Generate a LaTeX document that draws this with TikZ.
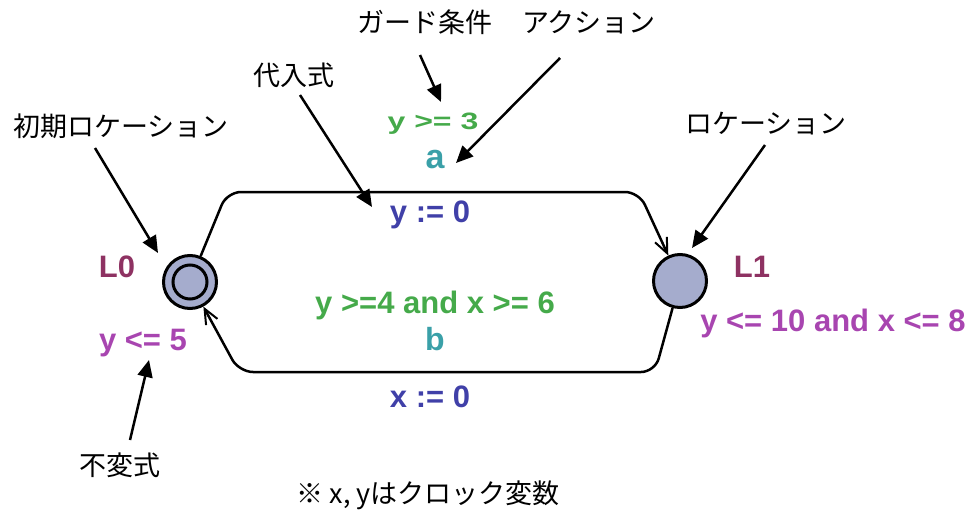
\documentclass[tikz,border=0pt]{standalone}
\usepackage{fontspec}
\usepackage{graphicx}
\setmainfont{Liberation Sans}
\newfontfamily\jp{Noto Sans CJK JP}
\usetikzlibrary{arrows.meta}
\definecolor{locfill}{RGB}{165,172,205}
\definecolor{lname}{RGB}{142,50,98}
\definecolor{inv}{RGB}{168,69,176}
\definecolor{guard}{RGB}{69,170,74}
\definecolor{sync}{RGB}{58,160,168}
\definecolor{assign}{RGB}{64,64,168}
\begin{document}
\begin{tikzpicture}[x=1pt,y=-1pt,
  loc/.style={circle, draw, line width=3pt, fill=locfill, minimum size=53pt, inner sep=0pt},
  trans/.style={line width=2.5pt, rounded corners=14pt, -{Straight Barb[length=15pt,width=13pt,line width=2pt]}},
  note/.style={line width=2.5pt, -{Triangle[length=17pt,width=15pt]}},
  lab/.style={font=\bfseries\fontsize{31}{37}\selectfont, inner sep=0pt, anchor=base},
  jlab/.style={font=\jp\fontsize{27}{32}\selectfont, inner sep=0pt}]
\useasboundingbox (0,0) rectangle (973,516);

% locations
\node[loc] (L0) at (190,282) {};
\draw[line width=3pt] (L0.center) circle (17);
\node[loc] (L1) at (680,281) {};

% transition corners
\coordinate (c1) at (227,192);
\coordinate (c2) at (639,192);
\coordinate (c3) at (655,372);
\coordinate (c4) at (239,372);
\draw[trans] (L0) -- (c1) -- (c2) -- (L1);
\draw[trans] (L1) -- (c3) -- (c4) -- (L0);

% labels
\node[lab, text=lname] (n0) at (117,277) {L0};
\node[lab, text=lname] (n1) at (752,277) {L1};
\node[lab, text=inv] (i0) at (143,350) {y <= 5};
\node[lab, text=inv] (i1) at (833,331) {y <= 10 and x <= 8};
\node[lab, text=guard, font=\bfseries\fontsize{32}{38}\selectfont] (g1) at (433,129) {\scalebox{1}[0.74]{y >= 3}};
\node[lab, text=sync, font=\bfseries\fontsize{34}{40}\selectfont] (s1) at (435,168) {a};
\node[lab, text=assign] (u1) at (430,222) {y := 0};
\node[lab, text=guard] (g2) at (435,313) {y >=4 and x >= 6};
\node[lab, text=sync, font=\bfseries\fontsize{32}{38}\selectfont] (s2) at (435,350) {b};
\node[lab, text=assign] (u2) at (430,407) {x := 0};

% annotations
\node[jlab] (j1) at (121,126) {初期ロケーション};
\node[jlab] (j2) at (294,75) {代入式};
\node[jlab] (j3) at (425,22) {ガード条件};
\node[jlab] (j4) at (589,22) {アクション};
\node[jlab] (j5) at (766,124) {ロケーション};
\node[jlab] (j6) at (120,465) {不変式};
\node[jlab] (j7) at (428,495) {※ x, yはクロック変数};

\coordinate (a1s) at (95,148);  \coordinate (a1e) at (158,253);
\coordinate (a2s) at (300,95);  \coordinate (a2e) at (372,207);
\coordinate (a3s) at (420,55);  \coordinate (a3e) at (441,102);
\coordinate (a4s) at (560,58);  \coordinate (a4e) at (456,163);
\coordinate (a5s) at (765,145); \coordinate (a5e) at (692,248);
\coordinate (a6s) at (130,440); \coordinate (a6e) at (149,360);
\draw[note] (a1s) -- (a1e);
\draw[note] (a2s) -- (a2e);
\draw[note] (a3s) -- (a3e);
\draw[note] (a4s) -- (a4e);
\draw[note] (a5s) -- (a5e);
\draw[note] (a6s) -- (a6e);
\end{tikzpicture}
\end{document}
